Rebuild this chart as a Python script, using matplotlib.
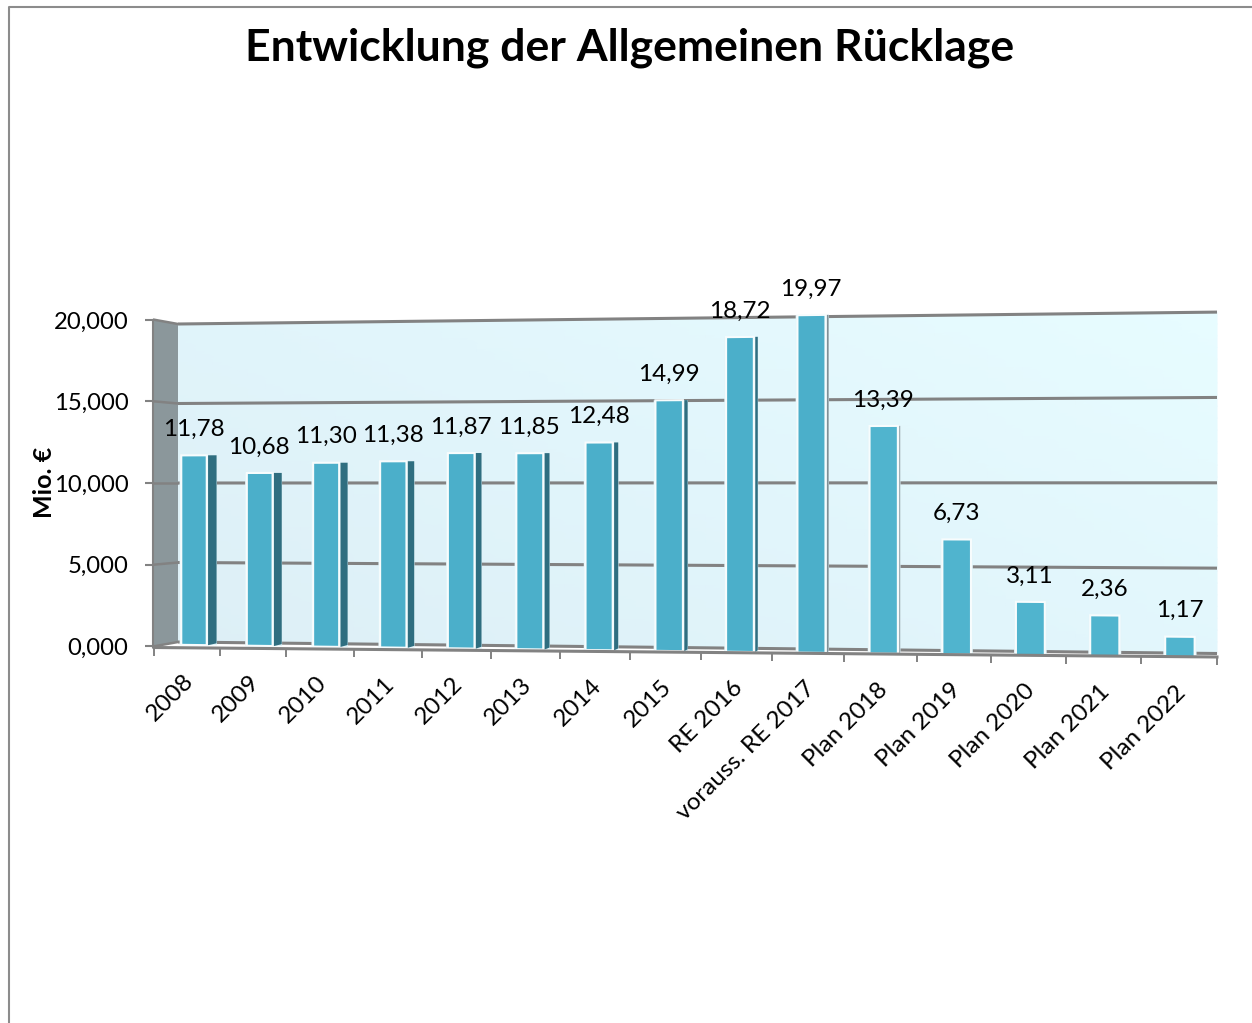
import matplotlib
matplotlib.use('Agg')
import matplotlib.pyplot as plt
import numpy as np
from matplotlib.colors import LinearSegmentedColormap
from matplotlib.transforms import Affine2D, Transform

WIDTH, HEIGHT = 1252, 1023

categories = ['2008', '2009', '2010', '2011', '2012', '2013', '2014', '2015', 'RE 2016',
              'vorauss. RE 2017', 'Plan 2018', 'Plan 2019', 'Plan 2020', 'Plan 2021', 'Plan 2022']
values = [11.78, 10.68, 11.30, 11.38, 11.87, 11.85, 12.48, 14.99, 18.72,
          19.97, 13.39, 6.73, 3.11, 2.36, 1.17]
value_labels = ['11,78', '10,68', '11,30', '11,38', '11,87', '11,85', '12,48', '14,99', '18,72',
                '19,97', '13,39', '6,73', '3,11', '2,36', '1,17']
y_ticks = [0, 5, 10, 15, 20]
y_tick_labels = ['0,000', '5,000', '10,000', '15,000', '20,000']

plt.rcParams['font.family'] = ['Lato', 'DejaVu Sans']


# the old chart is a fake 3D one, so every plane gets its own little warp
class Warp(Transform):
    input_dims = 2
    output_dims = 2

    def __init__(self, x_coef, base, scale):
        super().__init__()
        self.x_coef = x_coef
        self.base = base
        self.scale = scale

    def transform_non_affine(self, values):
        xy = np.asarray(values, dtype=float)
        u, v = xy[:, 0], xy[:, 1]
        x = self.x_coef[0] + self.x_coef[1] * u + self.x_coef[2] * u ** 2
        y = self.base[0] + self.base[1] * u - v * (self.scale[0] + self.scale[1] * u)
        return np.column_stack([x, y])


to_display = Affine2D().scale(1, -1).translate(0, HEIGHT)
front = Warp((194, 65.34, 0.363), (645, 0.86), (16.1, 0.09)) + to_display
back = Warp((178, 1039, 0), (642, 11.5), (15.9, 1.17)) + to_display
side = Warp((153, 25, 0), (646.5, -4.5), (16.35, -0.45)) + to_display
floor = Warp((154, 1063, 0), (647.5, 9.5), (16, 0)) + to_display

fig = plt.figure(figsize=(WIDTH / 100, HEIGHT / 100), dpi=100, facecolor='white')
ax = fig.add_axes([154 / WIDTH, 1 - 646 / HEIGHT, 1063 / WIDTH, 326 / HEIGHT])
ax.set_xlim(0, 1)
ax.set_ylim(0, 20)
ax.patch.set_visible(False)
for s in ax.spines.values():
    s.set_visible(False)

# page border
fig.add_artist(plt.Line2D([8.5 / WIDTH, 8.5 / WIDTH, 1], [0, 1 - 7 / HEIGHT, 1 - 7 / HEIGHT],
                          color='#8c8c8c', lw=1.5))

# walls
wall_cmap = LinearSegmentedColormap.from_list('wall', ['#ddeff6', '#e1f5fb', '#e7fcff'])
U, V = np.meshgrid(np.linspace(0, 1, 60), np.linspace(0, 20, 30))
ax.pcolormesh(U, V, U + V / 30, cmap=wall_cmap, shading='gouraud', transform=back, clip_on=False, zorder=1)
ax.fill([0, 1, 1, 0], [0, 0, 20, 20], color='#8b979b', lw=0, transform=side, clip_on=False, zorder=1)

for t in y_ticks:
    ax.plot([0, 1], [t, t], color='#828282', lw=2.2, transform=back, clip_on=False, zorder=2,
            solid_capstyle='butt')
    ax.plot([0, 1], [t, t], color='#828282', lw=1.8, transform=side, clip_on=False, zorder=2,
            solid_capstyle='butt')

# axis lines
ax.plot([0, 1], [0, 0], color='#828282', lw=2.2, transform=floor, clip_on=False, zorder=5)
ax.plot([0, 0], [0, 20], color='#828282', lw=1.5, transform=side, clip_on=False, zorder=2)
tick_x = [154, 220, 286, 354, 422, 491, 560, 630, 701, 772, 844, 917, 991, 1066, 1141, 1217]
for px in tick_x:
    u = (px - 154) / 1063
    ax.plot([u, u], [0, -0.5], color='#828282', lw=1.4, transform=floor, clip_on=False, zorder=5,
            solid_capstyle='butt')

# bars, with the soft pale halo that breaks the grid lines next to them
half = 0.195
for i, v in enumerate(values):
    sw = max(0, 0.13 * (1 - i / 11))
    left = i - half - 0.025
    right = i + half + sw + 0.025
    ax.bar((left + right) / 2, v, width=right - left, color='#e3f5fa', lw=0,
           transform=front, clip_on=False, zorder=3)
    ax.bar(i, v, width=2 * half, color='#4bafca' if i < 10 else '#50b4ce', edgecolor='#f7fcfd', lw=1.5,
           transform=front, clip_on=False, zorder=4)
    if sw > 0:
        shade = '#2f6e80' if i < 9 else '#7f9097'
        ax.fill([i + half + 0.02, i + half + 0.02 + sw, i + half + 0.02 + sw, i + half + 0.02],
                [0, 0.12, v, v], color=shade, lw=0, transform=front, clip_on=False, zorder=4)
    ax.annotate(value_labels[i], (i, v), xycoords=front, xytext=(-0.5, 26), textcoords='offset pixels',
                ha='center', va='center', fontsize=17.5, color='black', annotation_clip=False, zorder=6)

# labels below the floor
for i, name in enumerate(categories):
    ax.annotate(name, (i, 0), xycoords=front, xytext=(-11 + 0.4 * i, -25), textcoords='offset pixels',
                ha='right', va='top', rotation=45, rotation_mode='anchor', fontsize=17.5,
                annotation_clip=False, zorder=6)

ax.set_xticks([])
ax.set_yticks(y_ticks)
ax.set_yticklabels(y_tick_labels, fontsize=17.2)
ax.tick_params(axis='y', length=6.5, width=1.5, color='#828282', pad=12)

fig.text(45 / WIDTH, 1 - 482 / HEIGHT, 'Mio. €', rotation=90, ha='center', va='center',
         fontsize=18, fontweight='bold')
fig.text(630 / WIDTH, 1 - 48 / HEIGHT, 'Entwicklung der Allgemeinen Rücklage', ha='center', va='center',
         fontsize=32, fontweight='bold')

fig.savefig('out.png', dpi=100)
